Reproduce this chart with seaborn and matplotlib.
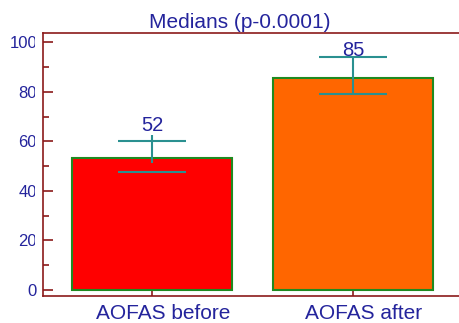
import matplotlib
matplotlib.use("Agg")
import matplotlib.pyplot as plt
from matplotlib.transforms import Bbox, TransformedBbox, ScaledTranslation
import seaborn as sns
import pandas as pd

# data
groups = ["AOFAS before", "AOFAS after"]
bar_heights = [53.2, 85.5]
median_labels = ["52", "85"]
label_y = [64.2, 94.6]
cap_low = [47.5, 79.2]
cap_high = [60.2, 94.1]
stem_low = [51.2, 79.2]
stem_high = [62.6, 94.1]
y_ticks = [0, 20, 40, 60, 80, 100]
y_minor = [10, 30, 50, 70, 90]
title = "Medians (p-0.0001)"

bar_colors = ["#ff0000", "#ff6600"]
edge_col = "#1f8a1f"
err_col = "#2a9090"
spine_col = "#8b1a1a"
text_col = "#24249c"

sns.set_theme(style="white")
plt.rcParams["font.family"] = ["Liberation Sans", "DejaVu Sans"]

fig = plt.figure(figsize=(4.6, 3.23), dpi=100)
W, H = 460, 323
ax = fig.add_axes([43 / W, (H - 296) / H, (460 - 43) / W, (296 - 33) / H])

df = pd.DataFrame({"group": groups, "value": bar_heights})
sns.barplot(data=df, x="group", y="value", hue="group", palette=bar_colors,
            width=0.8, edgecolor=edge_col, linewidth=1.5, legend=False, ax=ax,
            saturation=1)

xs = list(range(len(groups)))
ax.hlines(cap_low, [x - 0.167 for x in xs], [x + 0.167 for x in xs], color=err_col, lw=1.5, zorder=5)
ax.hlines(cap_high, [x - 0.167 for x in xs], [x + 0.167 for x in xs], color=err_col, lw=1.5, zorder=5)
ax.vlines(xs, stem_low, stem_high, color=err_col, lw=1.5, zorder=5)
for x, yv, lab in zip(xs, label_y, median_labels):
    ax.text(x, yv, lab, ha="center", va="baseline", fontsize=14.5, color=text_col)

ax.set_xlim(-0.542, 1.532)
ax.set_ylim(-2.42, 103.8)
ax.set_yticks(y_ticks)
ax.set_yticks(y_minor, minor=True)
ax.set_yticklabels([str(v) for v in y_ticks])
ax.set_xlabel("")
ax.set_ylabel("")

for s in ["left", "top", "bottom"]:
    ax.spines[s].set_color(spine_col)
    ax.spines[s].set_linewidth(1.2)
ax.spines["right"].set_visible(False)

ax.tick_params(axis="y", which="major", direction="in", length=7, width=1.2, color=spine_col,
               labelsize=12, labelcolor=text_col, pad=4.3, left=True)
ax.tick_params(axis="y", which="minor", direction="in", length=4, width=1.2, color=spine_col, left=True)
ax.tick_params(axis="x", which="major", direction="in", length=4, width=1.2, color=spine_col,
               labelsize=15, labelcolor=text_col, pad=5.5, bottom=True)

clip = TransformedBbox(Bbox([[0, 0], [35.5 / W, 1]]), fig.transFigure)
for lab in ax.get_yticklabels():
    if len(lab.get_text()) > 1:
        lab.set_clip_box(clip)
        lab.set_clip_on(True)

shift = ScaledTranslation(11 / 100, 0, fig.dpi_scale_trans)
for lab in ax.get_xticklabels():
    lab.set_transform(lab.get_transform() + shift)

fig.text(240 / W, (H - 22) / H, title, ha="center", va="center", fontsize=15, color=text_col)

fig.savefig("out.png", dpi=100)
